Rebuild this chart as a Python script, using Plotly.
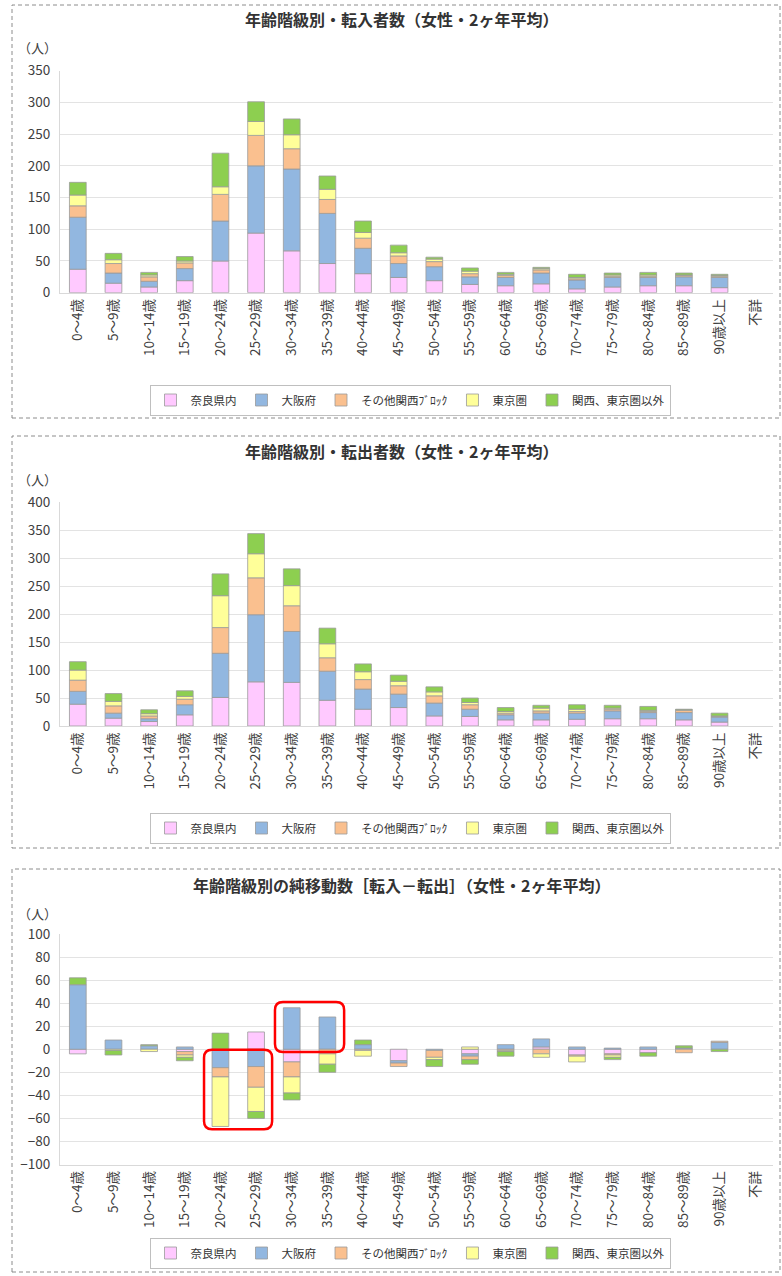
import plotly.graph_objects as go

W, H = 782, 1276
FONT = "Noto Sans CJK JP"

# --- data -------------------------------------------------------------
age_groups = ["0～4歳", "5～9歳", "10～14歳", "15～19歳", "20～24歳", "25～29歳",
              "30～34歳", "35～39歳", "40～44歳", "45～49歳", "50～54歳", "55～59歳",
              "60～64歳", "65～69歳", "70～74歳", "75～79歳", "80～84歳", "85～89歳",
              "90歳以上", "不詳"]
regions = ["奈良県内", "大阪府", "その他関西ﾌﾞﾛｯｸ", "東京圏", "関西、東京圏以外"]

# 転入者数
nara_in = [37, 15, 9, 19, 50, 94, 66, 46, 30, 24, 19, 13, 11, 14, 6, 9, 11, 11, 8, 0]
osaka_in = [82, 16, 9, 19, 63, 106, 129, 79, 40, 22, 22, 12, 13, 17, 14, 15, 13, 14, 16, 0]
kansai_in = [18, 15, 7, 9, 42, 48, 32, 22, 16, 12, 8, 5, 3, 5, 2, 2, 2, 2, 2, 0]
tokyo_in = [17, 6, 3, 3, 12, 22, 22, 16, 9, 5, 4, 4, 2, 2, 2, 2, 2, 1, 1, 0]
other_in = [20, 10, 4, 7, 53, 31, 25, 21, 18, 12, 3, 5, 3, 2, 5, 3, 4, 3, 2, 0]

# 転出者数
nara_out = [39, 14, 8, 20, 51, 79, 78, 46, 30, 33, 18, 17, 11, 11, 12, 13, 13, 11, 7, 0]
osaka_out = [23, 9, 5, 18, 79, 120, 91, 52, 36, 24, 23, 13, 9, 12, 11, 14, 11, 13, 9, 0]
kansai_out = [20, 13, 5, 10, 46, 66, 46, 24, 17, 15, 13, 8, 3, 4, 3, 3, 2, 4, 1, 0]
tokyo_out = [18, 8, 4, 5, 57, 43, 36, 25, 14, 8, 7, 4, 3, 5, 4, 2, 2, 1, 1, 0]
other_out = [15, 14, 7, 10, 39, 36, 30, 28, 14, 11, 9, 8, 7, 5, 8, 5, 7, 1, 5, 0]

# 純移動数（転入－転出）
nara_net = [-4, 0, 0, -2, 0, 15, -11, 0, 0, -10, 0, -4, 0, 2, -5, -4, -3, 0, 0, 0]
osaka_net = [56, 8, 3, 2, -16, -15, 36, 28, 4, -2, -1, -2, 4, 7, 2, 1, 2, 1, 6, 0]
kansai_net = [0, 0, 0, -3, -8, -18, -13, -4, -1, -3, -6, -3, -1, -4, -1, -1, 0, -3, 1, 0]
tokyo_net = [0, -1, -2, -2, -43, -21, -14, -9, -5, 0, -2, 2, -1, -3, -5, -2, 0, 0, 0, 0]
other_net = [6, -4, 1, -3, 14, -6, -6, -7, 4, 0, -6, -4, -4, 0, 0, -2, -3, 2, -2, 0]

titles = ["年齢階級別・転入者数（女性・2ヶ年平均）",
          "年齢階級別・転出者数（女性・2ヶ年平均）",
          "年齢階級別の純移動数［転入－転出］（女性・2ヶ年平均）"]

colors = ["#FFC9FF", "#92B7E0", "#FAC08F", "#FFFF99", "#8DCF50"]


def px_x(p):
    return p / W


def px_y(p):
    return 1 - p / H


# panel geometry in pixels: plot top/bottom, box, title, legend
panels = [
    dict(series=[nara_in, osaka_in, kansai_in, tokyo_in, other_in],
         yrange=[0, 350], dtick=50, top=70.7, bottom=292.7,
         box=(5, 418), title_y=19, unit_y=47, legend_y=400),
    dict(series=[nara_out, osaka_out, kansai_out, tokyo_out, other_out],
         yrange=[0, 400], dtick=50, top=502.3, bottom=726,
         box=(436, 848), title_y=451, unit_y=480, legend_y=828),
    dict(series=[nara_net, osaka_net, kansai_net, tokyo_net, other_net],
         yrange=[-100, 100], dtick=20, top=934, bottom=1164.5,
         box=(869, 1272), title_y=885, unit_y=913, legend_y=1253),
]

PLOT_L, PLOT_R = 60, 773

fig = go.Figure()
shapes = []
annotations = []
layout = {}

for i, p in enumerate(panels):
    n = "" if i == 0 else str(i + 1)
    leg = "legend" + n
    for name, vals, col in zip(regions, p["series"], colors):
        fig.add_trace(go.Bar(
            x=age_groups,
            y=[v if v != 0 else None for v in vals],  # empty cells draw nothing
            name=name,
            marker=dict(color=col, line=dict(color="#9A9A9A", width=0.8)),
            xaxis="x" + n, yaxis="y" + n, legend=leg,
        ))

    layout["xaxis" + n] = dict(
        domain=[px_x(PLOT_L), px_x(PLOT_R)], anchor="y" + n,
        type="category", tickangle=-90, showgrid=False, automargin=False,
        showline=True, linecolor="#D9D9D9", ticks="",
        tickfont=dict(size=13.5, color="#404040", family=FONT),
    )
    layout["yaxis" + n] = dict(
        domain=[px_y(p["bottom"]), px_y(p["top"])], anchor="x" + n,
        range=p["yrange"], dtick=p["dtick"], showgrid=True, automargin=False,
        gridcolor="#E3E3E3", gridwidth=1, zeroline=False,
        showline=True, linecolor="#D9D9D9", ticks="", ticklabelstandoff=6,
        tickfont=dict(size=13.5, color="#404040", family=FONT),
    )
    layout[leg] = dict(
        orientation="h", x=px_x(410), y=px_y(p["legend_y"]),
        xanchor="center", yanchor="middle",
        bordercolor="#BFBFBF", borderwidth=1, bgcolor="white",
        font=dict(size=11.5, color="#333333", family=FONT),
        itemwidth=30, tracegroupgap=0,
    )

    top, bot = p["box"]
    shapes.append(dict(type="rect", xref="paper", yref="paper",
                       x0=px_x(12), x1=px_x(780), y0=px_y(bot), y1=px_y(top),
                       line=dict(color="#8C8C8C", width=1, dash="4px,3px")))
    annotations.append(dict(text="<b>" + titles[i] + "</b>", xref="paper", yref="paper",
                            x=px_x(401), y=px_y(p["title_y"]), showarrow=False,
                            xanchor="center", yanchor="middle",
                            font=dict(size=16, color="#333333", family=FONT)))
    annotations.append(dict(text="（人）", xref="paper", yref="paper",
                            x=px_x(37), y=px_y(p["unit_y"]), showarrow=False,
                            xanchor="center", yanchor="middle",
                            font=dict(size=13, color="#404040", family=FONT)))


def rounded_box(x0, x1, y0, y1, rx, ry):
    # rounded rectangle path in data units of the net chart
    return (f"M{x0 + rx},{y1} L{x1 - rx},{y1} Q{x1},{y1} {x1},{y1 - ry} "
            f"L{x1},{y0 + ry} Q{x1},{y0} {x1 - rx},{y0} L{x0 + rx},{y0} "
            f"Q{x0},{y0} {x0},{y0 + ry} L{x0},{y1 - ry} Q{x0},{y1} {x0 + rx},{y1} Z")


# red highlight boxes on the net migration chart
rx, ry = 8 / 35.65, 8 / 1.153
for x0, x1, y0, y1 in [(3.54, 5.45, -69.5, -0.5), (5.53, 7.47, -2.4, 41)]:
    shapes.append(dict(type="path", xref="x3", yref="y3",
                       path=rounded_box(x0, x1, y0, y1, rx, ry),
                       line=dict(color="#FF0000", width=2.5)))

fig.update_layout(
    **layout,
    barmode="relative",
    bargap=0.53,
    width=W, height=H,
    margin=dict(l=0, r=0, t=0, b=0),
    paper_bgcolor="white",
    plot_bgcolor="white",
    shapes=shapes,
    annotations=annotations,
    font=dict(family=FONT),
)

# drop the browser's default body margin so the figure fills the window
fig.write_html("out.html",
               config={"displayModeBar": False},
               post_script="document.body.style.margin='0';document.body.style.overflow='hidden';")
